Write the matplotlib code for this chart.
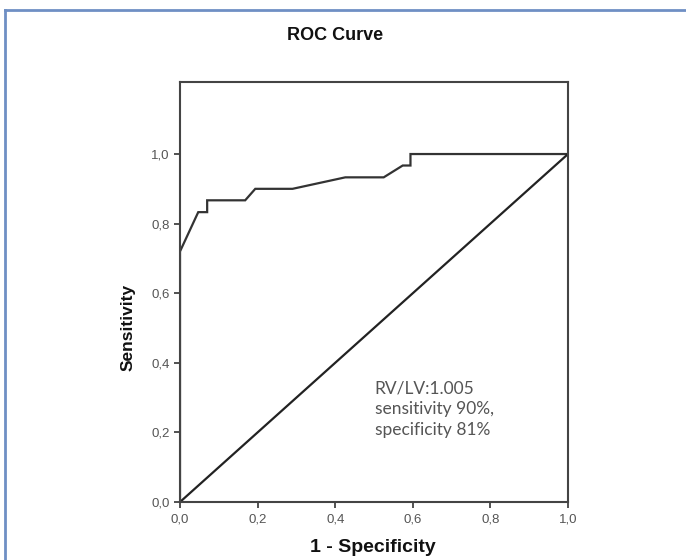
import matplotlib.pyplot as plt
from matplotlib.lines import Line2D

# ROC curve points (1 - specificity, sensitivity)
fpr = [0.0, 0.0, 0.047, 0.070, 0.070, 0.168, 0.194, 0.290, 0.426, 0.525, 0.574, 0.594, 0.594, 1.0]
tpr = [0.0, 0.72, 0.833, 0.833, 0.867, 0.867, 0.900, 0.900, 0.933, 0.933, 0.967, 0.967, 1.0, 1.0]
ref_line = [0.0, 1.0]

ticks = [0.0, 0.2, 0.4, 0.6, 0.8, 1.0]
tick_labels = ["0,0", "0,2", "0,4", "0,6", "0,8", "1,0"]
note = "RV/LV:1.005\nsensitivity 90%,\nspecificity 81%"

plt.rcParams['font.family'] = ['Liberation Sans', 'DejaVu Sans']

fig = plt.figure(figsize=(6.86, 5.6), dpi=100)
ax = fig.add_axes([180 / 686, 58 / 560, 388 / 686, 420 / 560])

dark = "#333333"
ax.plot(fpr, tpr, color=dark, linewidth=1.6, solid_joinstyle="miter")
ax.plot(ref_line, ref_line, color="#222222", linewidth=1.6)

ax.set_xlim(0, 1.0)
ax.set_ylim(0, 1.207)
ax.set_xticks(ticks)
ax.set_xticklabels(tick_labels)
ax.set_yticks(ticks)
ax.set_yticklabels(tick_labels)
ax.tick_params(direction="out", length=4.5, width=1.2, color=dark,
               labelsize=9.5, labelcolor="#555555", pad=3)
ax.tick_params(axis="x", pad=4)
for s in ax.spines.values():
    s.set_color("#444444")
    s.set_linewidth(1.5)

# labels placed as in the picture (not centred on the axes)
fig.text(335 / 686, 1 - 35 / 560, "ROC Curve", ha="center", va="center",
         fontsize=13, fontweight="bold", color="#111111")
fig.text(373 / 686, 1 - 548 / 560, "1 - Specificity", ha="center", va="center",
         fontsize=14, fontweight="bold", color="#111111")
fig.text(128 / 686, 1 - 327 / 560, "Sensitivity", ha="center", va="center",
         rotation=90, fontsize=12.5, fontweight="bold", color="#111111")

ax.text(0.502, 0.348, note, transform=ax.transData, ha="left", va="top",
        fontsize=12.5, family=["Lato", "DejaVu Sans"], color="#555555",
        linespacing=1.35)

# blue frame on the left and top edges
fig.add_artist(Line2D([4.5 / 686, 4.5 / 686], [0, 1 - 10 / 560],
                      transform=fig.transFigure, color="#6f8fc4", linewidth=2))
fig.add_artist(Line2D([4.5 / 686, 1], [1 - 10 / 560, 1 - 10 / 560],
                      transform=fig.transFigure, color="#6f8fc4", linewidth=2))

fig.savefig("out.png", dpi=100)
